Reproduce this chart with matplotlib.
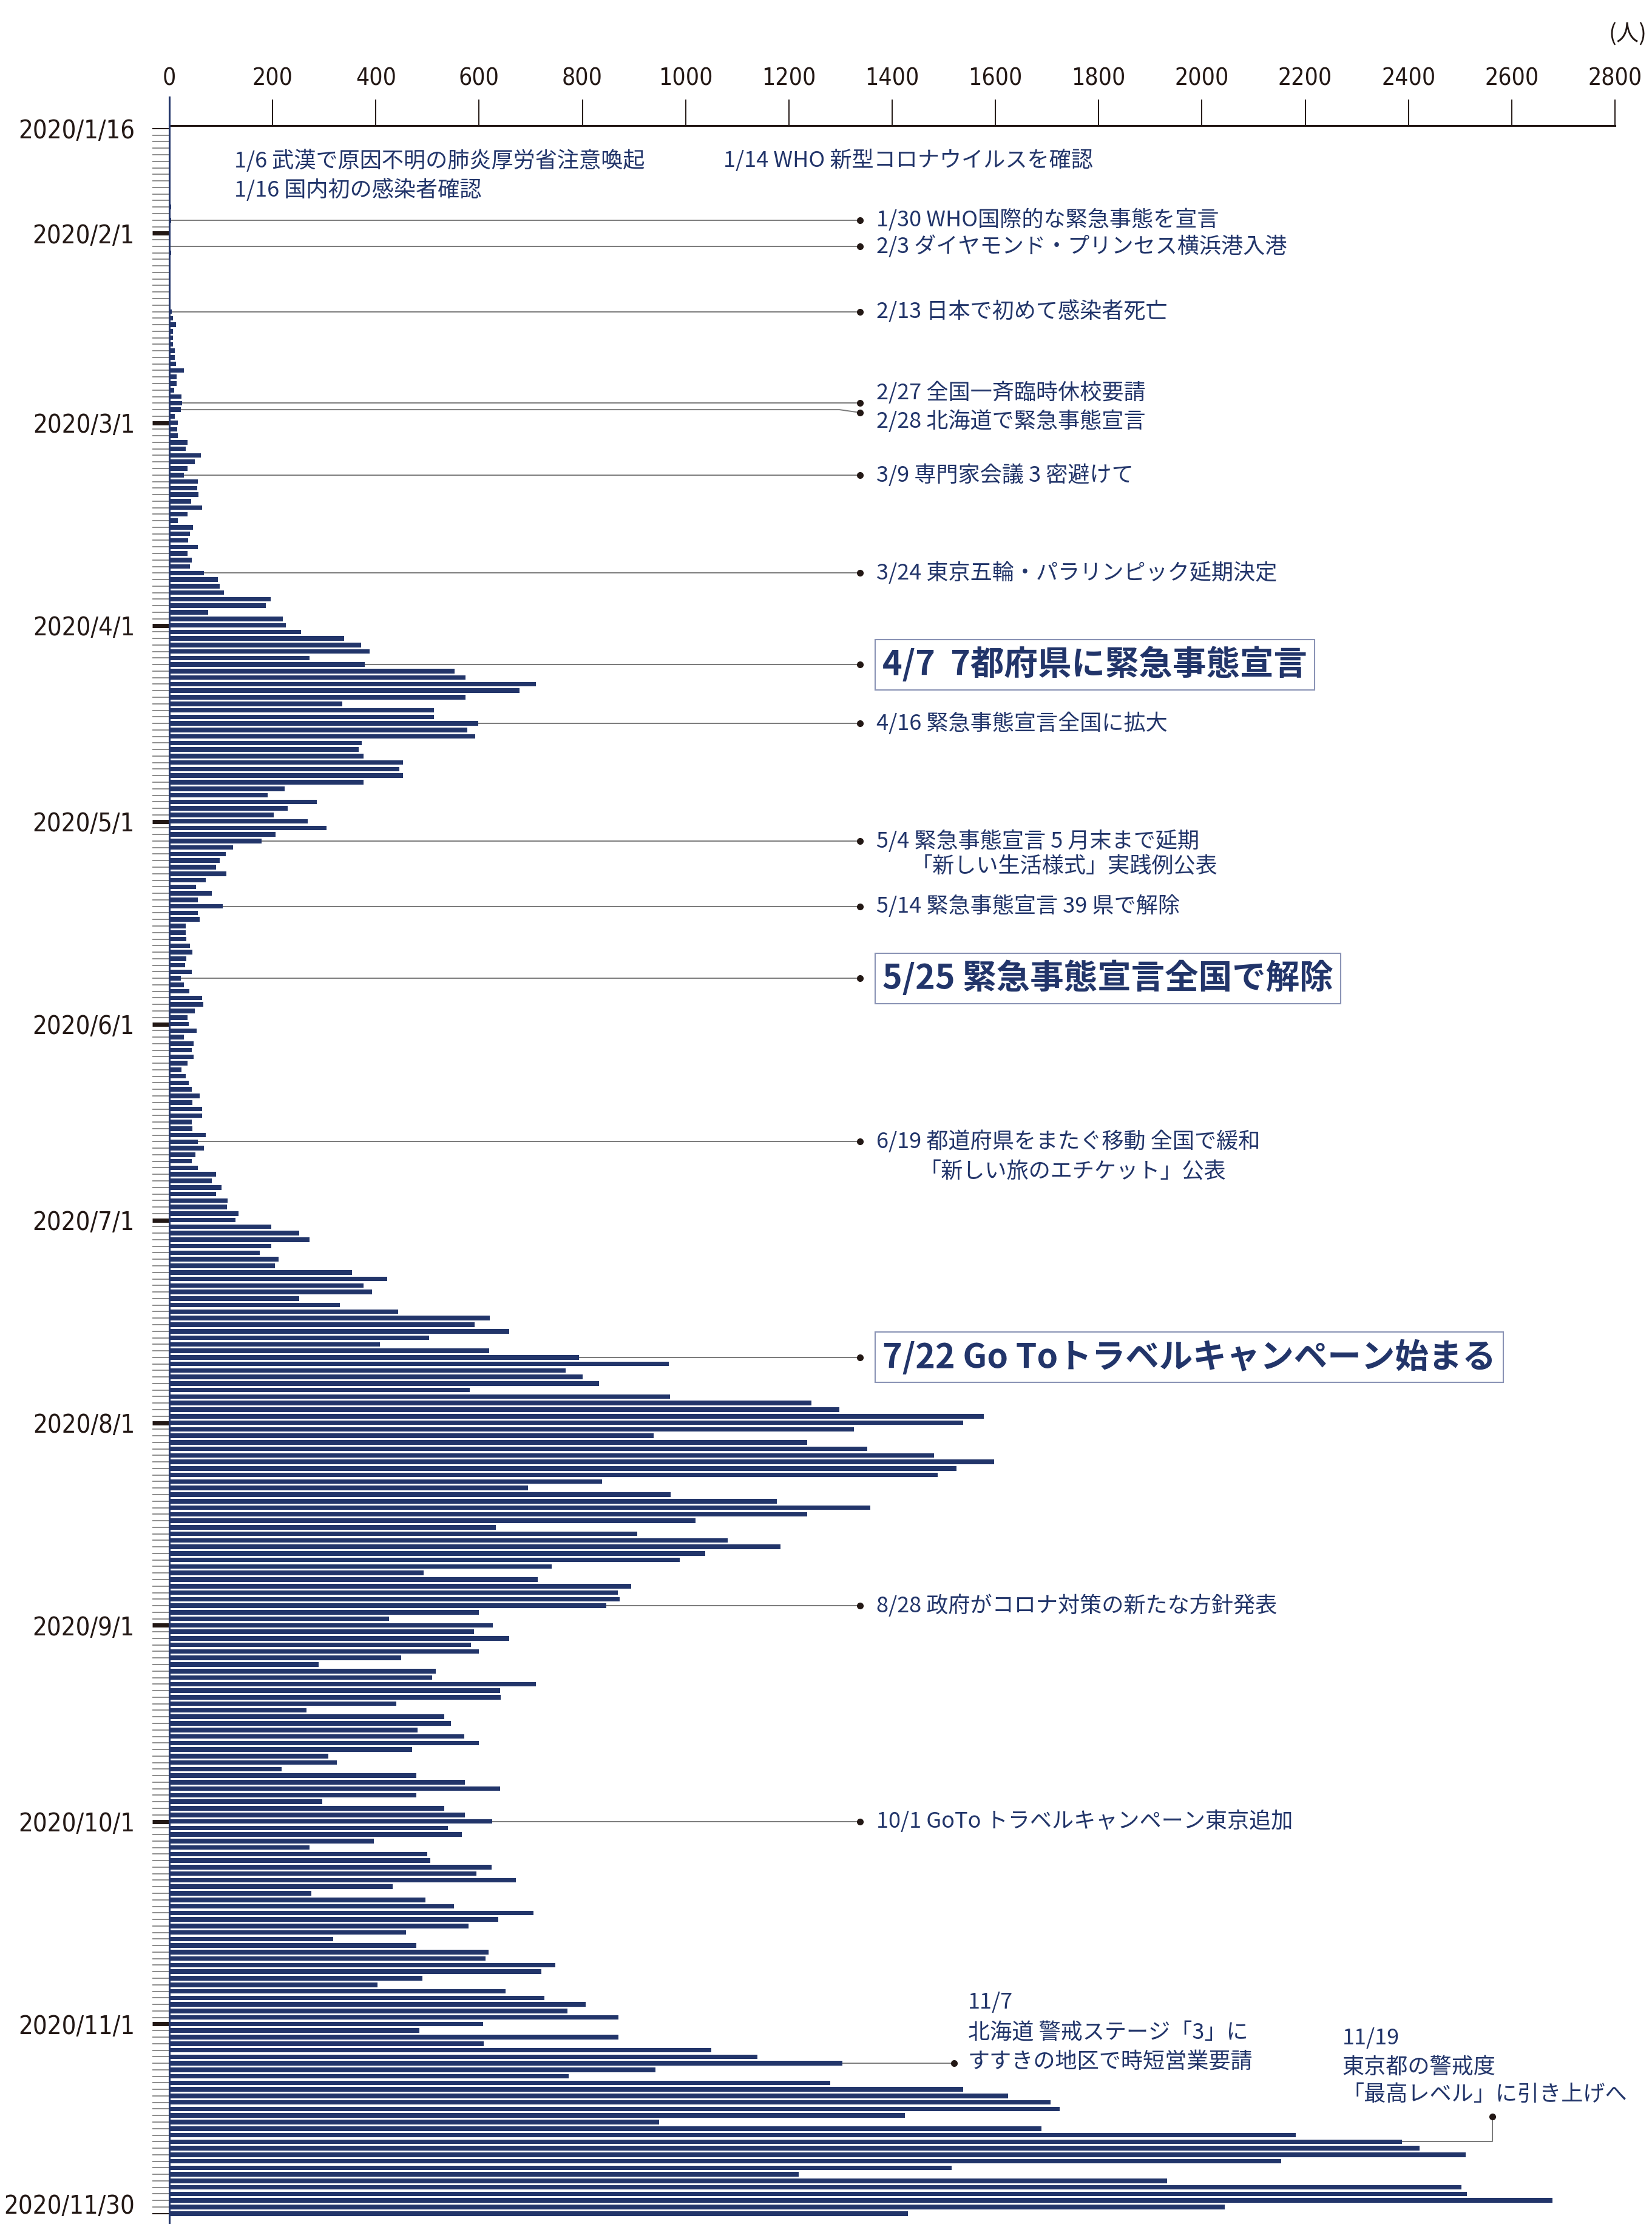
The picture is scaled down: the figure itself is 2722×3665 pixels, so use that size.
import numpy as np
import pandas as pd
import matplotlib
matplotlib.use("Agg")
import matplotlib.pyplot as plt
from matplotlib import font_manager
from matplotlib.transforms import ScaledTranslation

# daily new cases (people), 2020/1/16 - 2020/11/30
jan = [1, 0, 0, 0, 0, 0, 0, 0, 1, 1, 1, 0, 4, 1, 4, 2]
feb = [2, 0, 0, 3, 2, 0, 0, 1, 0, 1, 0, 2, 5, 7, 13, 7, 7, 7, 11, 10,
       13, 28, 14, 14, 9, 23, 25, 22, 10]
mar = [16, 15, 17, 35, 32, 61, 49, 35, 28, 55, 54, 56, 42, 63, 35, 16, 46, 40, 37, 55,
       35, 43, 40, 67, 94, 97, 106, 196, 187, 75, 220]
apr = [226, 255, 338, 371, 388, 271, 378, 552, 574, 710, 678, 574, 335, 512, 512, 598, 577, 592, 373, 367,
       376, 452, 446, 452, 376, 223, 190, 286, 229, 202]
may = [268, 305, 206, 179, 123, 109, 98, 91, 110, 70, 52, 82, 55, 103, 55, 59, 32, 32, 33, 40,
       45, 33, 31, 43, 22, 28, 39, 63, 66, 49, 35]
jun = [38, 53, 28, 47, 43, 47, 35, 24, 32, 38, 43, 59, 45, 64, 63, 44, 45, 70, 55, 67,
       51, 43, 55, 91, 82, 101, 90, 113, 112, 134]
jul = [128, 197, 251, 271, 197, 175, 211, 205, 354, 422, 376, 393, 251, 330, 443, 621, 591, 658, 503, 408,
       620, 794, 968, 768, 800, 832, 582, 970, 1244, 1298, 1577]
aug = [1537, 1326, 938, 1236, 1352, 1481, 1598, 1525, 1488, 838, 695, 971, 1177, 1358, 1236, 1019, 632, 906, 1082, 1184,
       1038, 988, 740, 492, 714, 895, 869, 872, 846, 600, 426]
sep = [626, 590, 658, 584, 600, 449, 289, 516, 509, 710, 641, 642, 440, 266, 532, 545, 481, 571, 599, 470,
       308, 324, 217, 479, 572, 641, 479, 296, 532, 572]
octo = [625, 539, 566, 396, 272, 500, 506, 624, 595, 671, 433, 275, 496, 551, 705, 637, 580, 458, 317, 479,
        618, 612, 748, 721, 490, 403, 651, 726, 806, 771, 870]
nov = [608, 484, 870, 609, 1050, 1139, 1304, 941, 774, 1280, 1538, 1625, 1707, 1725, 1425, 949, 1689, 2182, 2387, 2421,
       2511, 2153, 1515, 1219, 1932, 2503, 2513, 2679, 2044, 1431]

cases = jan + feb + mar + apr + may + jun + jul + aug + sep + octo + nov
dates = pd.date_range("2020-01-16", "2020-11-30", freq="D")

label_dates = ["2020-01-16", "2020-02-01", "2020-03-01", "2020-04-01", "2020-05-01", "2020-06-01",
               "2020-07-01", "2020-08-01", "2020-09-01", "2020-10-01", "2020-11-01", "2020-11-30"]
x_ticks = list(range(0, 2801, 200))

# events: (row date, text)
events = [
    ("2020-01-30", "1/30 WHO国際的な緊急事態を宣言"),
    ("2020-02-03", "2/3 ダイヤモンド・プリンセス横浜港入港"),
    ("2020-02-13", "2/13 日本で初めて感染者死亡"),
    ("2020-03-09", "3/9 専門家会議 3 密避けて"),
    ("2020-03-24", "3/24 東京五輪・パラリンピック延期決定"),
    ("2020-04-16", "4/16 緊急事態宣言全国に拡大"),
    ("2020-05-04", "5/4 緊急事態宣言 5 月末まで延期"),
    ("2020-05-14", "5/14 緊急事態宣言 39 県で解除"),
    ("2020-06-19", "6/19 都道府県をまたぐ移動 全国で緩和"),
    ("2020-08-29", "8/28 政府がコロナ対策の新たな方針発表"),
    ("2020-10-01", "10/1 GoTo トラベルキャンペーン東京追加"),
]
big_events = [
    ("2020-04-07", "4/7  7都府県に緊急事態宣言"),
    ("2020-05-25", "5/25 緊急事態宣言全国で解除"),
    ("2020-07-22", "7/22 Go Toトラベルキャンペーン始まる"),
]

navy = "#22356a"
black = "#231815"
gray = "#8c8c8c"
line_gray = "#7a7a7a"

plt.rcParams["font.family"] = ["Noto Sans CJK JP", "DejaVu Sans"]
names = {f.name for f in font_manager.fontManager.ttflist}
if "Liberation Sans Narrow" in names:
    num_font = dict(family="Liberation Sans Narrow")
    date_size, num_size = 41, 38
else:
    num_font = dict(family="DejaVu Sans", stretch="condensed")
    date_size, num_size = 30, 28

rows = np.arange(len(dates))
def row_of(d):
    return dates.get_loc(pd.Timestamp(d))

fig = plt.figure(figsize=(27.22, 36.65), dpi=100)
ax = fig.add_axes([0.1025, 0.0, 0.87509, 0.94352])

ax.barh(rows, cases, height=0.7, color=navy, zorder=2)

ax.set_xlim(0, 2800)
ax.set_ylim(320.6, -0.46)

for s in ["left", "right", "bottom"]:
    ax.spines[s].set_visible(False)
ax.spines["top"].set_linewidth(2.2)
ax.spines["top"].set_color(black)

ax.xaxis.tick_top()
ax.set_xticks(x_ticks)
ax.set_xticklabels([str(v) for v in x_ticks], fontsize=num_size, color=black, **num_font)
ax.tick_params(axis="x", which="major", length=31, width=1.4, color=black, pad=11)

label_rows = [row_of(d) for d in label_dates]
ax.set_yticks(label_rows)
ax.set_yticklabels([pd.Timestamp(d).strftime("%Y/%-m/%-d") for d in label_dates],
                   fontsize=date_size, color=black, **num_font)
ax.set_yticks(rows, minor=True)
ax.tick_params(axis="y", which="minor", length=20, width=1.4, color=gray)
ax.tick_params(axis="y", which="major", length=20, width=5, color=black, pad=21)
yt = ax.yaxis.get_major_ticks()
for t in (yt[0], yt[-1]):
    t.tick1line.set_color(gray)
    t.tick1line.set_markeredgewidth(1.4)
# last label sits on the bottom edge: lift it a little so it stays inside
last = yt[-1].label1
last.set_transform(last.get_transform() + ScaledTranslation(0, 12 / 72, fig.dpi_scale_trans))

ax.axvline(0, 0, 1.0136, color=navy, lw=2.2, clip_on=False, zorder=5)

fig.text(0.9853, 0.98445, "(人)", ha="center", va="center", fontsize=27, color=black)

# annotation texts
dot_x, text_x = 1338, 1370
ax.text(126, 4.9, "1/6 武漢で原因不明の肺炎厚労省注意喚起", fontsize=26, color=navy, va="center")
ax.text(1073, 4.9, "1/14 WHO 新型コロナウイルスを確認", fontsize=26, color=navy, va="center")
ax.text(126, 9.4, "1/16 国内初の感染者確認", fontsize=26, color=navy, va="center")

for d, txt in events:
    r = row_of(d)
    ax.plot([0, dot_x], [r, r], color=line_gray, lw=1.4, zorder=1)
    ax.plot(dot_x, r, "o", ms=7, color=black, zorder=3)
    ax.text(text_x, r, txt, fontsize=26, color=navy, va="center")

ax.text(1436, row_of("2020-05-04") + 4.0, "「新しい生活様式」実践例公表", fontsize=26, color=navy, va="center")
ax.text(1452, row_of("2020-06-19") + 4.6, "「新しい旅のエチケット」公表", fontsize=26, color=navy, va="center")

# 2/27 and 2/28 share close rows
r27, r28 = row_of("2020-02-27"), row_of("2020-02-28")
ax.plot([0, dot_x], [r27, r27], color=line_gray, lw=1.4, zorder=1)
ax.plot(dot_x, r27, "o", ms=7, color=black, zorder=3)
ax.text(text_x, r27 - 1.6, "2/27 全国一斉臨時休校要請", fontsize=26, color=navy, va="center")
ax.plot([0, dot_x * 0.97, dot_x], [r28, r28, r28 + 0.45], color=line_gray, lw=1.4, zorder=1)
ax.plot(dot_x, r28 + 0.45, "o", ms=7, color=black, zorder=3)
ax.text(text_x, r28 + 1.75, "2/28 北海道で緊急事態宣言", fontsize=26, color=navy, va="center")

for d, txt in big_events:
    r = row_of(d)
    ax.plot([0, dot_x], [r, r], color=line_gray, lw=1.4, zorder=1)
    ax.plot(dot_x, r, "o", ms=7, color=black, zorder=3)
    ax.text(1381, r, txt, fontsize=40, fontweight="bold", color=navy, va="center",
            bbox=dict(boxstyle="square,pad=0.22", fc="white", ec="#8a93b5", lw=1.5))

# 11/7
r = row_of("2020-11-07")
ax.plot([0, 1520], [r, r], color=line_gray, lw=1.4, zorder=1)
ax.plot(1520, r, "o", ms=7, color=black, zorder=3)
ax.text(1547, 286.7, "11/7", fontsize=26, color=navy, va="center")
ax.text(1547, 291.3, "北海道 警戒ステージ「3」に", fontsize=26, color=navy, va="center")
ax.text(1547, 295.8, "すすきの地区で時短営業要請", fontsize=26, color=navy, va="center")

# 11/19
r = row_of("2020-11-19")
ax.plot([0, 2563, 2563], [r, r, 304.2], color=line_gray, lw=1.4, zorder=1)
ax.plot(2563, 304.2, "o", ms=7, color=black, zorder=3)
ax.text(2272, 292.2, "11/19", fontsize=26, color=navy, va="center")
ax.text(2272, 296.6, "東京都の警戒度", fontsize=26, color=navy, va="center")
ax.text(2272, 300.8, "「最高レベル」に引き上げへ", fontsize=26, color=navy, va="center")

fig.savefig("out.png", dpi=100)
